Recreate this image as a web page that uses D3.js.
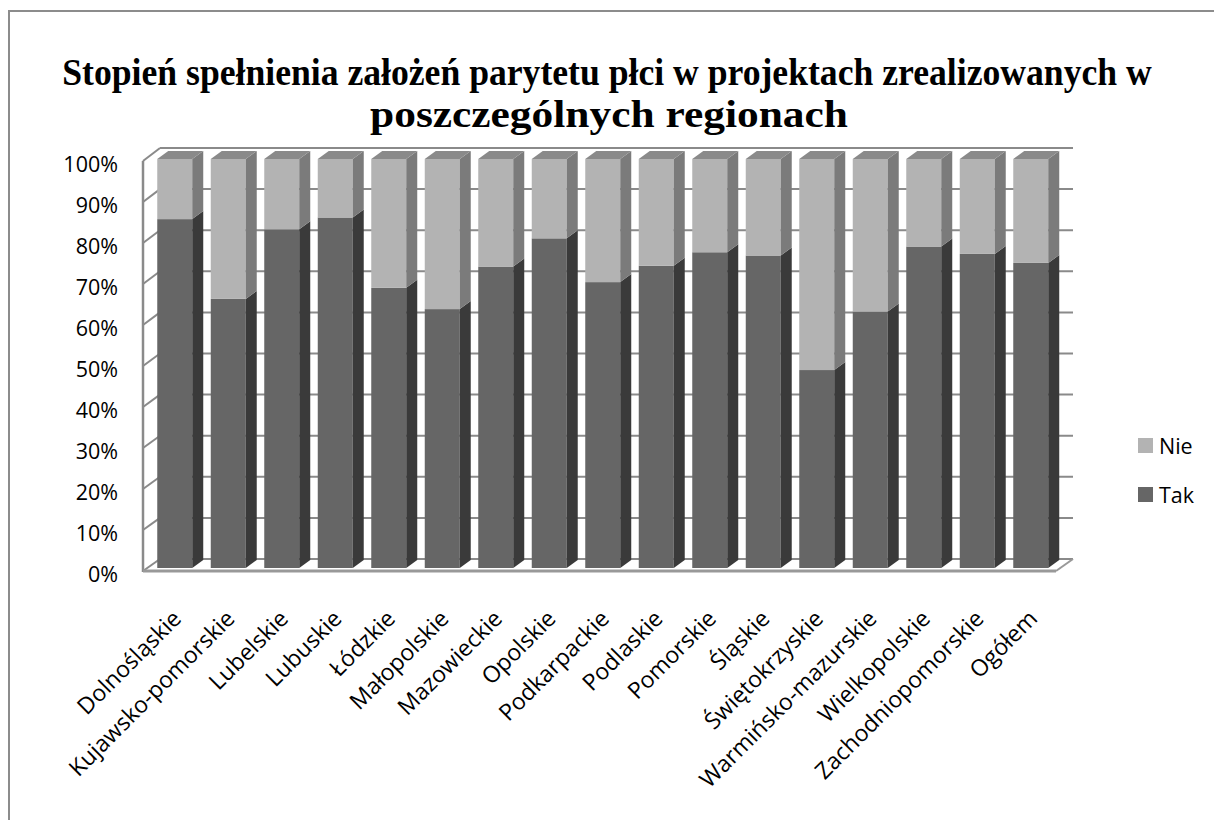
<!DOCTYPE html>
<html>
<head>
<meta charset="utf-8">
<script src="https://cdn.jsdelivr.net/npm/d3@7"></script>
<style>
  body { margin: 0; background: #fff; }
  svg { display: block; }
</style>
</head>
<body>
<div id="chart"></div>
<script>
const titleLines = [
  "Stopień spełnienia założeń parytetu płci w projektach zrealizowanych w",
  "poszczególnych regionach"
];
const regions = [
  "Dolnośląskie", "Kujawsko-pomorskie", "Lubelskie", "Lubuskie", "Łódzkie",
  "Małopolskie", "Mazowieckie", "Opolskie", "Podkarpackie", "Podlaskie",
  "Pomorskie", "Śląskie", "Świętokrzyskie", "Warmińsko-mazurskie",
  "Wielkopolskie", "Zachodniopomorskie", "Ogółem"
];
// share of projects (%)
const tak = [85.3, 65.8, 82.8, 85.7, 68.5, 63.3, 73.7, 80.6, 69.9, 73.9, 77.2, 76.4, 48.4, 62.7, 78.6, 76.8, 74.6];
const nie = [14.7, 34.2, 17.2, 14.3, 31.5, 36.7, 26.3, 19.4, 30.1, 26.1, 22.8, 23.6, 51.6, 37.3, 21.4, 23.2, 25.4];
const yTicks = [0, 10, 20, 30, 40, 50, 60, 70, 80, 90, 100];
const seriesNames = ["Nie", "Tak"];

const W = 1214, H = 820;
const svg = d3.select("#chart").append("svg")
  .attr("width", W).attr("height", H);

// outer frame
svg.append("rect")
  .attr("x", 9).attr("y", 11)
  .attr("width", W + 20).attr("height", H + 20)
  .attr("fill", "none").attr("stroke", "#8c8c8c").attr("stroke-width", 2);

// title, each line squeezed to the width it has in the original
const titleWidths = [1090, 478];
const titleCenters = [607, 609];
svg.append("g").selectAll("g")
  .data(titleLines)
  .join("g")
  .each(function (d, i) {
    const g = d3.select(this);
    const t = g.append("text")
      .attr("x", 0)
      .attr("y", 85 + i * 42)
      .attr("text-anchor", "middle")
      .attr("font-family", "'Liberation Serif', 'Times New Roman', serif")
      .attr("font-weight", "bold")
      .attr("font-size", 38)
      .text(d);
    const s = titleWidths[i] / t.node().getComputedTextLength();
    g.attr("transform", `translate(${titleCenters[i]},0) scale(${s},1)`);
  });

// 3d geometry
const wallX = 143, wallDx = 17, wallDy = -13;
const barDx = 11, barDy = -8;
const yFront = d3.scaleLinear().domain([0, 100]).range([571, 161]);
const yBack = d3.scaleLinear().domain([0, 100]).range([559, 148]);
const yBar = d3.scaleLinear().domain([0, 100]).range([568, 159]);
const backRight = 1073;

const x = d3.scaleBand()
  .domain(regions)
  .range([148, 1057.5])
  .paddingInner(0.346)
  .paddingOuter(0.173);

const grid = svg.append("g");
// back wall gridlines
grid.selectAll("line.h")
  .data(yTicks)
  .join("line")
  .attr("x1", wallX + wallDx).attr("x2", backRight)
  .attr("y1", d => yBack(d)).attr("y2", d => yBack(d))
  .attr("stroke", "#8a8a8a").attr("stroke-width", 2);
// left wall ticks
grid.selectAll("line.d")
  .data(yTicks)
  .join("line")
  .attr("x1", wallX).attr("x2", wallX + wallDx)
  .attr("y1", d => yFront(d)).attr("y2", d => yBack(d))
  .attr("stroke", "#8a8a8a").attr("stroke-width", 2);
// left wall front edge
grid.append("line")
  .attr("x1", wallX).attr("x2", wallX)
  .attr("y1", yFront(0) + 1).attr("y2", yFront(100))
  .attr("stroke", "#8a8a8a").attr("stroke-width", 2.5);
// floor front edge and right edge
grid.append("line")
  .attr("x1", wallX).attr("x2", backRight - wallDx)
  .attr("y1", yFront(0)).attr("y2", yFront(0))
  .attr("stroke", "#999").attr("stroke-width", 3);
grid.append("line")
  .attr("x1", backRight - wallDx).attr("x2", backRight)
  .attr("y1", yFront(0)).attr("y2", yBack(0))
  .attr("stroke", "#999").attr("stroke-width", 2);

// y labels
svg.append("g").selectAll("text")
  .data(yTicks)
  .join("text")
  .attr("x", 118)
  .attr("y", d => yFront(d) + 3)
  .attr("dy", "0.35em")
  .attr("text-anchor", "end")
  .attr("font-family", "'Open Sans', sans-serif")
  .attr("font-size", 21.5)
  .attr("fill", "#000")
  .text(d => d + "%");

// stacked data
const stacked = regions.map((r, i) => ({ name: r, tak: tak[i], nie: nie[i] }));

const colors = {
  Tak: { front: "#666666", side: "#3a3a3a", top: "#4d4d4d" },
  Nie: { front: "#b3b3b3", side: "#7b7b7b", top: "#8a8a8a" }
};

function segments(d) {
  return [
    { key: "Tak", name: d.name, y0: 0, y1: d.tak },
    { key: "Nie", name: d.name, y0: d.tak, y1: d.tak + d.nie }
  ];
}

const bars = svg.append("g").selectAll("g")
  .data(stacked)
  .join("g");

bars.each(function (d) {
  const g = d3.select(this);
  const x0 = x(d.name), w = x.bandwidth();
  segments(d).forEach(s => {
    const yt = yBar(s.y1), yb = yBar(s.y0);
    // front face
    g.append("rect")
      .attr("x", x0).attr("y", yt)
      .attr("width", w).attr("height", yb - yt)
      .attr("fill", colors[s.key].front);
    // side face
    g.append("path")
      .attr("d", `M${x0 + w},${yt}L${x0 + w + barDx},${yt + barDy}L${x0 + w + barDx},${yb + barDy}L${x0 + w},${yb}Z`)
      .attr("fill", colors[s.key].side);
  });
  // top face
  const yt = yBar(d.tak + d.nie);
  g.append("path")
    .attr("d", `M${x0},${yt}L${x0 + barDx},${yt + barDy}L${x0 + w + barDx},${yt + barDy}L${x0 + w},${yt}Z`)
    .attr("fill", colors.Nie.top);
});

// x labels
svg.append("g").selectAll("text")
  .data(regions)
  .join("text")
  .attr("transform", d => `translate(${x(d) + x.bandwidth() / 2 + 8},${620}) rotate(-45)`)
  .attr("text-anchor", "end")
  .attr("font-family", "'Open Sans', sans-serif")
  .attr("font-size", 23)
  .attr("fill", "#000")
  .text(d => d);

// legend
const legend = svg.append("g").selectAll("g")
  .data(seriesNames)
  .join("g")
  .attr("transform", (d, i) => `translate(1138,${438 + i * 49})`);
legend.append("rect")
  .attr("width", 15).attr("height", 15)
  .attr("fill", d => colors[d].front);
legend.append("text")
  .attr("x", 21).attr("y", 8)
  .attr("dy", "0.35em")
  .attr("font-family", "'Open Sans', sans-serif")
  .attr("font-size", 21.5)
  .attr("fill", "#000")
  .text(d => d);
</script>
</body>
</html>
